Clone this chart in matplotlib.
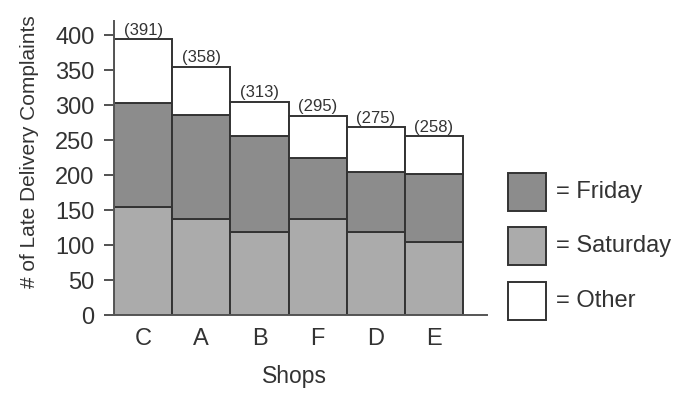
import matplotlib
matplotlib.use("Agg")
import matplotlib.pyplot as plt
from matplotlib.patches import Rectangle

plt.rcParams['font.family'] = ['Liberation Sans', 'DejaVu Sans']

shops = ["C", "A", "B", "F", "D", "E"]
saturday = [155, 137, 119, 137, 118, 105]
friday = [148, 149, 137, 87, 87, 97]
other = [91, 69, 49, 61, 63, 54]
totals = [391, 358, 313, 295, 275, 258]
yticks = [0, 50, 100, 150, 200, 250, 300, 350, 400]

c_fri = "#8c8c8c"
c_sat = "#ababab"
c_oth = "#ffffff"
edge = "#333333"
tcol = "#333333"

W, H = 679, 397
fig = plt.figure(figsize=(6.79, 3.97), dpi=100)
ax = fig.add_axes([0.168, 0.2065, 0.549, 0.7405])

x = list(range(len(shops)))
bottom_fri = saturday
bottom_oth = [s + f for s, f in zip(saturday, friday)]
kw = dict(width=1.0, edgecolor=edge, linewidth=1.4)
ax.bar(x, saturday, color=c_sat, **kw)
ax.bar(x, friday, bottom=bottom_fri, color=c_fri, **kw)
ax.bar(x, other, bottom=bottom_oth, color=c_oth, **kw)

for xi, b, o, t in zip(x, bottom_oth, other, totals):
    ax.text(xi, b + o + 1.5, f"({t})", ha="center", va="bottom", fontsize=12, color=tcol)

ax.set_xlim(-0.5, 5.91)
ax.set_ylim(0, 420)
ax.set_yticks(yticks)
ax.set_xticks(x)
ax.set_xticklabels(shops)
ax.tick_params(axis="y", direction="out", length=7, width=1.2, labelsize=17, colors=tcol, pad=7)
ax.tick_params(axis="x", length=0, labelsize=17, colors=tcol, pad=9)
for s in ["top", "right"]:
    ax.spines[s].set_visible(False)
for s in ["left", "bottom"]:
    ax.spines[s].set_color("#555555")
    ax.spines[s].set_linewidth(1.4)

fig.text(30 / W, 1 - 152 / H, "# of Late Delivery Complaints", rotation=90,
         ha="center", va="center", fontsize=15, color=tcol)
fig.text(294 / W, 1 - 377 / H, "Shops", ha="center", va="center", fontsize=16.5, color=tcol)

legend_items = [("= Friday", c_fri, 173), ("= Saturday", c_sat, 227), ("= Other", c_oth, 282)]
for label, col, ytop in legend_items:
    r = Rectangle((508 / W, 1 - (ytop + 38) / H), 38 / W, 38 / H, transform=fig.transFigure,
                  facecolor=col, edgecolor=edge, linewidth=1.4)
    fig.patches.append(r)
    fig.text(556 / W, 1 - (ytop + 19) / H, label, ha="left", va="center", fontsize=17, color=tcol)

fig.savefig("out.png", dpi=100)
